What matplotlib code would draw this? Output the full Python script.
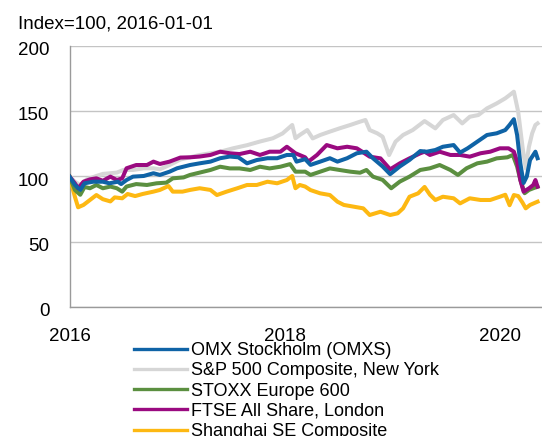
import matplotlib
matplotlib.use("Agg")
import matplotlib.pyplot as plt
import matplotlib.transforms as mtransforms

plt.rcParams['font.family'] = ['Liberation Sans', 'DejaVu Sans']

title = "Index=100, 2016-01-01"
labels = ["OMX Stockholm (OMXS)", "S&P 500 Composite, New York",
          "STOXX Europe 600", "FTSE All Share, London", "Shanghai SE Composite"]
colors = ["#0f63a6", "#d6d6d6", "#5b8f40", "#9a0a80", "#fdb812"]

# Time in decimal years, values indexed to 100 at 2016-01-01
omx_t = [2016.00, 2016.05, 2016.10, 2016.14, 2016.22, 2016.31, 2016.37, 2016.45, 2016.48,
         2016.53, 2016.59, 2016.69, 2016.78, 2016.84, 2016.93, 2017.00, 2017.12, 2017.21,
         2017.31, 2017.40, 2017.49, 2017.57, 2017.65, 2017.74, 2017.84, 2017.93, 2018.02,
         2018.08, 2018.11, 2018.19, 2018.24, 2018.33, 2018.42, 2018.49, 2018.58, 2018.67,
         2018.76, 2018.82, 2018.91, 2018.98, 2019.07, 2019.16, 2019.26, 2019.32, 2019.40,
         2019.47, 2019.57, 2019.63, 2019.70, 2019.79, 2019.88, 2019.97, 2020.05, 2020.09,
         2020.13, 2020.16, 2020.19, 2020.22, 2020.25, 2020.28, 2020.33, 2020.35]
omx_v = [100, 93.5, 89.7, 94.8, 96, 96, 94.8, 96, 94.2,
         97.3, 99.9, 100.4, 102.5, 101.2, 103.7, 106.3, 108.8, 110.1,
         111.4, 114, 115.3, 114.7, 110.1, 112.6, 114, 114, 116.5,
         116.5, 111.4, 113.3, 108.9, 111.4, 114, 111.4, 114, 117.8,
         119, 114, 107.7, 101.8, 107.7, 112.7, 119.5, 119, 120.3,
         122.8, 124.1, 118.3, 121.6, 126.7, 131.8, 133.1, 135.6, 139.5,
         143.9, 131.8, 110.1, 95, 100, 112.7, 119, 114]

sp_t = [2016.00, 2016.05, 2016.10, 2016.16, 2016.25, 2016.31, 2016.38, 2016.44, 2016.50,
        2016.59, 2016.69, 2016.78, 2016.84, 2016.93, 2017.03, 2017.21, 2017.40, 2017.52,
        2017.65, 2017.77, 2017.89, 2017.98, 2018.07, 2018.10, 2018.14, 2018.21, 2018.26,
        2018.33, 2018.42, 2018.51, 2018.61, 2018.70, 2018.75, 2018.79, 2018.86, 2018.91,
        2018.97, 2019.03, 2019.10, 2019.19, 2019.30, 2019.40, 2019.47, 2019.57, 2019.65,
        2019.72, 2019.80, 2019.88, 2019.97, 2020.05, 2020.09, 2020.13, 2020.17, 2020.21,
        2020.24, 2020.27, 2020.30, 2020.33, 2020.35]
sp_v = [100, 96, 93.5, 97.8, 100.4, 102, 102.5, 103, 105,
        105, 106.3, 106.3, 105.5, 108.8, 113, 116.5, 119, 121.6,
        124, 126.8, 129.3, 133, 139.5, 129.3, 131.8, 135.6, 129.2,
        131.8, 134.4, 136.9, 139.5, 142, 143.3, 135.6, 133.1, 130.5,
        116.4, 126.7, 131.8, 135.6, 142.5, 136.9, 143.3, 147.1, 140.7,
        145.8, 147.1, 152.2, 156, 159.9, 162.4, 165, 149.6, 122.8,
        106.2, 122.8, 133.1, 139.5, 140.7]

stoxx_t = [2016.00, 2016.05, 2016.10, 2016.14, 2016.19, 2016.25, 2016.31, 2016.38, 2016.44,
           2016.49, 2016.53, 2016.62, 2016.72, 2016.81, 2016.90, 2016.96, 2017.06, 2017.12,
           2017.21, 2017.31, 2017.40, 2017.49, 2017.58, 2017.68, 2017.77, 2017.86, 2017.96,
           2018.05, 2018.10, 2018.19, 2018.24, 2018.33, 2018.42, 2018.51, 2018.61, 2018.70,
           2018.76, 2018.82, 2018.91, 2018.99, 2019.07, 2019.16, 2019.26, 2019.35, 2019.44,
           2019.54, 2019.61, 2019.69, 2019.79, 2019.88, 2019.97, 2020.07, 2020.12, 2020.16,
           2020.19, 2020.23, 2020.27, 2020.31, 2020.35]
stoxx_v = [100, 89.7, 86, 92, 91, 93.5, 91, 92.3, 91,
           88.4, 92.3, 94.2, 93.5, 94.8, 95.3, 98.6, 99.3, 101.2,
           103, 105, 107.5, 106.2, 106.2, 105, 107.5, 106.2, 107.5,
           109.5, 103.7, 103.7, 101.2, 103.7, 106.2, 105, 103.7, 102.9,
           105, 99.9, 97.4, 91, 96.1, 99.9, 105, 106.3, 108.8,
           105, 101.2, 106.3, 110.1, 111.4, 113.9, 114.7, 116.5, 107.6,
           97.4, 87.2, 89.7, 91, 92.2]

ftse_t = [2016.00, 2016.05, 2016.08, 2016.13, 2016.19, 2016.25, 2016.31, 2016.38, 2016.44,
          2016.49, 2016.53, 2016.62, 2016.72, 2016.78, 2016.84, 2016.93, 2017.03, 2017.12,
          2017.21, 2017.31, 2017.40, 2017.49, 2017.58, 2017.68, 2017.77, 2017.86, 2017.96,
          2018.02, 2018.10, 2018.19, 2018.22, 2018.30, 2018.39, 2018.49, 2018.58, 2018.67,
          2018.72, 2018.79, 2018.89, 2018.98, 2019.07, 2019.16, 2019.26, 2019.30, 2019.35,
          2019.44, 2019.54, 2019.63, 2019.72, 2019.82, 2019.91, 2020.00, 2020.08, 2020.13,
          2020.16, 2020.19, 2020.22, 2020.27, 2020.31, 2020.33, 2020.35]
ftse_v = [100, 94.8, 91, 96, 97.8, 98.6, 96.7, 99.9, 97.3,
          98.6, 106.3, 108.8, 108.8, 111.4, 109.6, 111.4, 114.5, 114.7,
          115.3, 116.5, 119, 117.8, 117.2, 119, 116.5, 119, 119,
          122.8, 117.8, 114.7, 111.4, 116.5, 124.1, 121.6, 122.8, 121.6,
          119, 115.2, 113.9, 105.5, 110.1, 113.9, 117.8, 119, 116.5,
          119, 116.5, 116.5, 115.2, 117.8, 119, 121.6, 121.6, 119,
          111.4, 97.3, 88.4, 90.9, 93.5, 97.3, 92.2]

sse_t = [2016.00, 2016.05, 2016.08, 2016.13, 2016.19, 2016.25, 2016.31, 2016.38, 2016.42,
         2016.49, 2016.54, 2016.61, 2016.68, 2016.78, 2016.84, 2016.92, 2016.96, 2017.05,
         2017.12, 2017.21, 2017.31, 2017.37, 2017.46, 2017.56, 2017.65, 2017.74, 2017.84,
         2017.93, 2018.02, 2018.07, 2018.10, 2018.14, 2018.19, 2018.24, 2018.33, 2018.42,
         2018.49, 2018.55, 2018.64, 2018.73, 2018.79, 2018.89, 2018.98, 2019.05, 2019.10,
         2019.16, 2019.24, 2019.30, 2019.35, 2019.40, 2019.47, 2019.57, 2019.63, 2019.72,
         2019.82, 2019.91, 2020.00, 2020.05, 2020.09, 2020.13, 2020.17, 2020.21, 2020.24,
         2020.28, 2020.33, 2020.35]
sse_v = [100, 84.5, 76.4, 78.2, 82, 85.8, 82.6, 80.9, 84,
         83.3, 86.6, 85, 86.6, 88.4, 89.7, 92.7, 88.4, 88.4,
         89.7, 91, 89.7, 85.8, 88.4, 91, 93.5, 93.5, 96,
         94.8, 97.3, 100.4, 91, 93.5, 92.3, 89.6, 87.1, 85.8,
         80.7, 78.2, 76.9, 75.6, 70.5, 73, 70.5, 71.8, 75.6,
         84.5, 87.1, 92, 86, 82, 84.5, 83.3, 79.4, 83.3,
         82, 82, 84.5, 86, 78, 85.8, 85, 80, 75.6,
         78.2, 80, 80.7]

series_t = [omx_t, sp_t, stoxx_t, ftse_t, sse_t]
series_v = [omx_v, sp_v, stoxx_v, ftse_v, sse_v]
zorders = [6, 2, 4, 5, 3]

yticks = [0, 50, 100, 150, 200]
xticks = [2016, 2018, 2020]
xtick_labels = ["2016", "2018", "2020"]

W, H = 542, 436
fig = plt.figure(figsize=(W / 100, H / 100), dpi=100)
ax = fig.add_axes([69.5 / W, 1 - 307 / H, (W - 69.5) / W, (307 - 46) / H])

handles = []
for t, v, c, lab, z in zip(series_t, series_v, colors, labels, zorders):
    h, = ax.plot(t, v, color=c, lw=2.9, solid_joinstyle='round', label=lab, zorder=z)
    handles.append(h)

ax.set_xlim(2016.0, 2016.0 + (W - 69.5) / 107.6)
ax.set_ylim(0, 200)
ax.set_yticks(yticks)
ax.set_xticks(xticks)
ax.set_xticklabels(xtick_labels)
ax.tick_params(axis='both', length=0, labelsize=13.5, colors='black')
ax.tick_params(axis='y', pad=14.5)
ax.tick_params(axis='x', pad=15)
ax.grid(axis='y', color='#c4c4c4', lw=1.0, zorder=0)
ax.set_axisbelow(True)
for s in ['top', 'right']:
    ax.spines[s].set_visible(False)
for s in ['left', 'bottom']:
    ax.spines[s].set_color('#9a9a9a')
    ax.spines[s].set_linewidth(1.0)

offset = mtransforms.ScaledTranslation(0, -2.5 / 100, fig.dpi_scale_trans)
for lbl in ax.get_yticklabels():
    lbl.set_transform(lbl.get_transform() + offset)

fig.text(18 / W, 1 - 24 / H, title, fontsize=13.5, ha='left', va='center')

leg = fig.legend(handles=handles, labels=labels, loc='upper left',
                 bbox_to_anchor=(134 / W, 1 - 342 / H), frameon=False,
                 fontsize=13, handlelength=2.95, handletextpad=0.22,
                 labelspacing=0.18, borderpad=0, borderaxespad=0)
for lh in leg.get_lines():
    lh.set_linewidth(2.4)

fig.savefig("out.png", dpi=100)
